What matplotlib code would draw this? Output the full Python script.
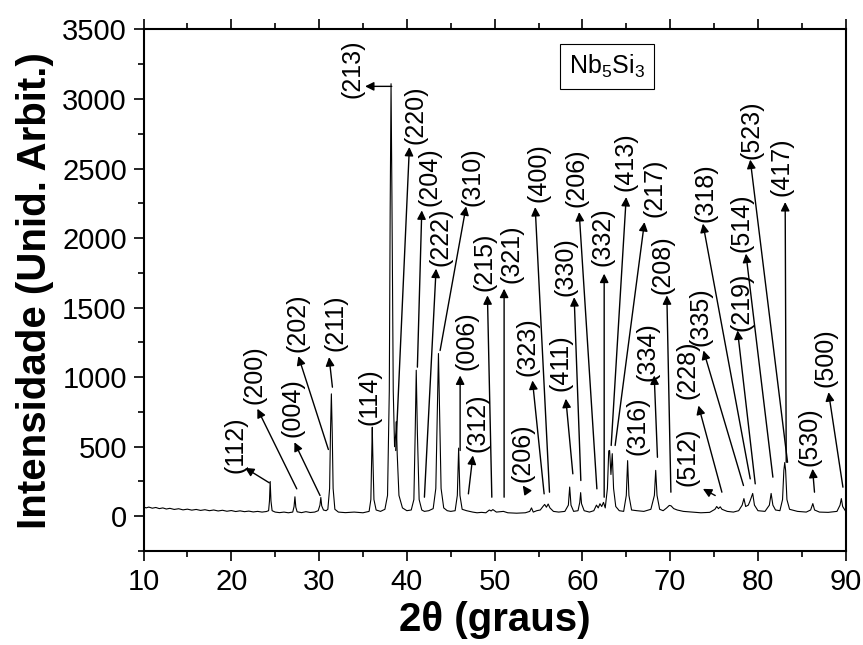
import matplotlib
matplotlib.use("Agg")
import matplotlib.pyplot as plt

plt.rcParams['font.family'] = ['Liberation Sans', 'DejaVu Sans']
plt.rcParams['mathtext.fontset'] = 'custom'
plt.rcParams['mathtext.rm'] = 'Liberation Sans'
plt.rcParams['mathtext.it'] = 'Liberation Sans:italic'
plt.rcParams['mathtext.bf'] = 'Liberation Sans:bold'

# XRD trace: (2theta, intensity)
trace = [
    (10.0, 68), (10.3, 60), (10.6, 66), (11.0, 58), (11.4, 63), (11.8, 55), (12.2, 60), (12.6, 52),
    (13.0, 57), (13.5, 49), (14.0, 54), (14.5, 46), (15.0, 51), (15.5, 44), (16.0, 49), (16.5, 42),
    (17.0, 47), (17.5, 40), (18.0, 45), (18.5, 38), (19.0, 43), (19.5, 36), (20.0, 41), (20.5, 34),
    (21.0, 39), (21.5, 33), (22.0, 37), (22.5, 31), (23.0, 35), (23.5, 30), (24.0, 34),
    (24.25, 40), (24.35, 110), (24.43, 250), (24.52, 110), (24.65, 40), (25.0, 30), (25.5, 26),
    (26.0, 30), (26.5, 25), (27.0, 30),
    (27.15, 70), (27.25, 140), (27.35, 65), (27.5, 32), (28.0, 26), (28.5, 33), (29.0, 27),
    (29.5, 30), (29.9, 40),
    (30.1, 80), (30.2, 135), (30.3, 75), (30.5, 45), (30.8, 40),
    (31.0, 50), (31.2, 200), (31.3, 600), (31.4, 880), (31.5, 600), (31.6, 200), (31.8, 50),
    (32.2, 30), (33.0, 26), (34.0, 30), (35.0, 25), (35.7, 35),
    (35.9, 120), (36.0, 450), (36.06, 640), (36.12, 450), (36.25, 120), (36.5, 45), (37.0, 35),
    (37.5, 50), (37.8, 150), (38.0, 900), (38.1, 2200), (38.2, 3110), (38.3, 2300), (38.45, 900),
    (38.6, 500), (38.75, 600), (38.8, 680), (38.9, 450), (39.1, 150), (39.5, 60), (40.0, 40),
    (40.5, 45), (40.8, 120), (40.95, 600), (41.07, 1050), (41.2, 600), (41.4, 120), (41.7, 45),
    (42.0, 35), (42.5, 40), (43.0, 55), (43.3, 200), (43.45, 700), (43.6, 1170), (43.75, 700),
    (43.9, 200), (44.2, 60), (44.6, 40), (45.0, 35), (45.5, 40), (45.75, 150), (45.9, 490),
    (46.05, 150), (46.3, 50), (46.8, 40), (47.5, 30), (48.0, 25), (48.5, 28), (49.0, 25),
    (49.4, 45), (49.6, 38), (49.8, 48), (50.2, 30), (51.0, 35), (51.5, 25), (52.5, 22),
    (53.5, 25), (54.0, 35), (54.2, 60), (54.4, 30), (54.8, 40), (55.2, 45), (55.5, 70),
    (55.7, 85), (55.9, 65), (56.1, 88), (56.3, 60), (56.7, 35), (57.3, 30), (58.0, 35),
    (58.4, 80), (58.55, 210), (58.7, 80), (59.0, 35), (59.5, 40), (59.7, 100), (59.8, 170),
    (59.9, 90), (60.2, 40), (60.8, 30), (61.3, 40), (61.6, 80), (61.8, 60), (62.0, 90),
    (62.2, 70), (62.4, 100), (62.6, 60), (62.85, 200), (63.0, 470), (63.1, 473), (63.25, 300),
    (63.4, 450), (63.55, 200), (63.8, 70), (64.2, 40), (64.7, 35), (65.0, 150), (65.15, 400),
    (65.3, 150), (65.6, 45), (66.2, 40), (67.0, 35), (67.8, 50), (68.2, 150), (68.35, 330),
    (68.5, 150), (68.8, 50), (69.2, 40), (69.6, 60), (69.9, 78), (70.1, 75), (70.4, 55),
    (70.8, 45), (71.5, 35), (72.5, 30), (73.5, 25), (74.5, 28), (75.1, 50), (75.3, 70),
    (75.5, 55), (75.7, 68), (75.9, 50), (76.5, 35), (77.2, 30), (77.8, 40), (78.2, 80),
    (78.4, 127), (78.6, 70), (78.9, 80), (79.1, 110), (79.4, 164), (79.6, 80), (80.0, 40),
    (80.8, 35), (81.3, 80), (81.5, 164), (81.7, 80), (82.0, 45), (82.5, 40), (82.8, 120),
    (82.95, 330), (83.05, 386), (83.15, 330), (83.3, 120), (83.6, 50), (84.5, 35), (85.5, 30),
    (86.0, 45), (86.25, 91), (86.45, 45), (87.0, 30), (88.0, 28), (89.0, 35), (89.35, 80),
    (89.5, 127), (89.65, 70), (90.0, 35),
]
two_theta = [p[0] for p in trace]
intensity = [p[1] for p in trace]

# hkl labels: text centre, arrow head (at label), arrow tail (at peak); None = no arrow
hkl = ['(112)', '(200)', '(004)', '(202)', '(211)', '(114)', '(213)', '(220)', '(204)',
       '(222)', '(310)', '(006)', '(312)', '(215)', '(321)', '(206)', '(323)', '(400)',
       '(411)', '(330)', '(206)', '(332)', '(413)', '(217)', '(316)', '(334)', '(208)',
       '(512)', '(228)', '(335)', '(318)', '(219)', '(514)', '(523)', '(417)', '(530)', '(500)']
label_xy = [(20.52, 516), (22.62, 1019), (26.98, 782), (27.55, 1393), (31.82, 1393),
            (35.72, 861), (33.82, 3221), (41.03, 2890), (42.56, 2444), (43.88, 2012),
            (47.44, 2444), (46.79, 1264), (48.06, 670), (48.83, 1832), (51.96, 1890),
            (53.19, 455), (53.76, 1221), (54.99, 2473), (57.56, 1102), (58.12, 1796),
            (59.37, 2433), (62.31, 2012), (64.96, 2552), (68.20, 2361), (66.30, 652),
            (67.44, 1185), (69.15, 1811), (72.00, 424), (72.00, 1055), (73.51, 1437),
            (73.99, 2325), (78.07, 1545), (78.07, 2109), (79.21, 2782), (82.73, 2511),
            (85.86, 573), (87.75, 1138)]
arrow_head = [(21.57, 348), (22.97, 773), (27.19, 532), (27.64, 1151), (31.14, 1144),
              None, (35.24, 3091), (40.29, 2655), (41.70, 2199), (43.33, 1780),
              (46.75, 2228), (46.07, 1012), (47.52, 437), (49.18, 1588), (51.08, 1636),
              (53.21, 221), (54.31, 976), (54.62, 2223), (58.11, 845), (59.06, 1575),
              (59.63, 2187), (62.48, 1744), (64.99, 2295), (67.07, 2115), None,
              (68.18, 1012), (69.62, 1588), (73.73, 197), (73.22, 796), (73.79, 1192),
              (73.73, 2104), (77.67, 1336), (78.63, 1888), (79.12, 2564), (83.10, 2259),
              (86.22, 341), (88.04, 892)]
arrow_tail = [(24.34, 240), (27.46, 197), (30.11, 149), (31.06, 480), (31.52, 928),
              None, (38.28, 3091), (38.74, 473), (41.20, 1072), (42.00, 137),
              (43.79, 1192), (46.07, 473), (47.01, 161), (49.68, 137), (51.08, 137),
              (53.74, 173), (55.64, 161), (56.25, 173), (58.91, 305), (59.82, 257),
              (61.65, 197), (62.48, 137), (63.28, 509), (63.73, 509), None,
              (68.55, 424), (70.08, 173), (75.13, 149), (75.89, 173), (78.35, 221),
              (79.12, 269), (79.69, 233), (81.70, 281), (83.37, 388), (83.22, 388),
              (86.44, 173), (89.68, 209)]

fig = plt.figure(figsize=(8.63, 6.45), dpi=100)
ax = fig.add_axes([0.1663, 0.1457, 0.9800 - 0.1663, 0.9543 - 0.1457])

ax.plot(two_theta, intensity, color='black', lw=0.8)

for lab, txy, head, tail in zip(hkl, label_xy, arrow_head, arrow_tail):
    ax.text(txy[0], txy[1], lab, rotation=90, ha='center', va='center', fontsize=18)
    if head is not None:
        ax.annotate('', xy=head, xytext=tail,
                    arrowprops=dict(arrowstyle='-|>', color='black', lw=1.0,
                                    mutation_scale=13, shrinkA=0, shrinkB=0))

ax.text(62.8, 3235, r'Nb$_5$Si$_3$', ha='center', va='center', fontsize=18,
        bbox=dict(boxstyle='square,pad=0.35', fc='white', ec='black', lw=0.8))

ax.set_xlim(10, 90)
ax.set_ylim(-250, 3500)
ax.set_xticks(range(10, 91, 10))
ax.set_xticks(range(15, 90, 10), minor=True)
ax.set_yticks(range(0, 3501, 500))
ax.set_yticks(range(-250, 3500, 500), minor=True)

ax.tick_params(which='both', direction='out', width=1.2, labelsize=21, top=True, right=False)
ax.tick_params(which='major', length=7, pad=5)
ax.tick_params(which='minor', length=4)
ax.tick_params(axis='x', labeltop=False)
for s in ax.spines.values():
    s.set_linewidth(1.5)

ax.set_xlabel('2θ (graus)', fontsize=29, fontweight='bold', labelpad=4)
ax.set_ylabel('Intensidade (Unid. Arbit.)', fontsize=29, fontweight='bold', labelpad=6)

fig.savefig('out.png', dpi=100)
